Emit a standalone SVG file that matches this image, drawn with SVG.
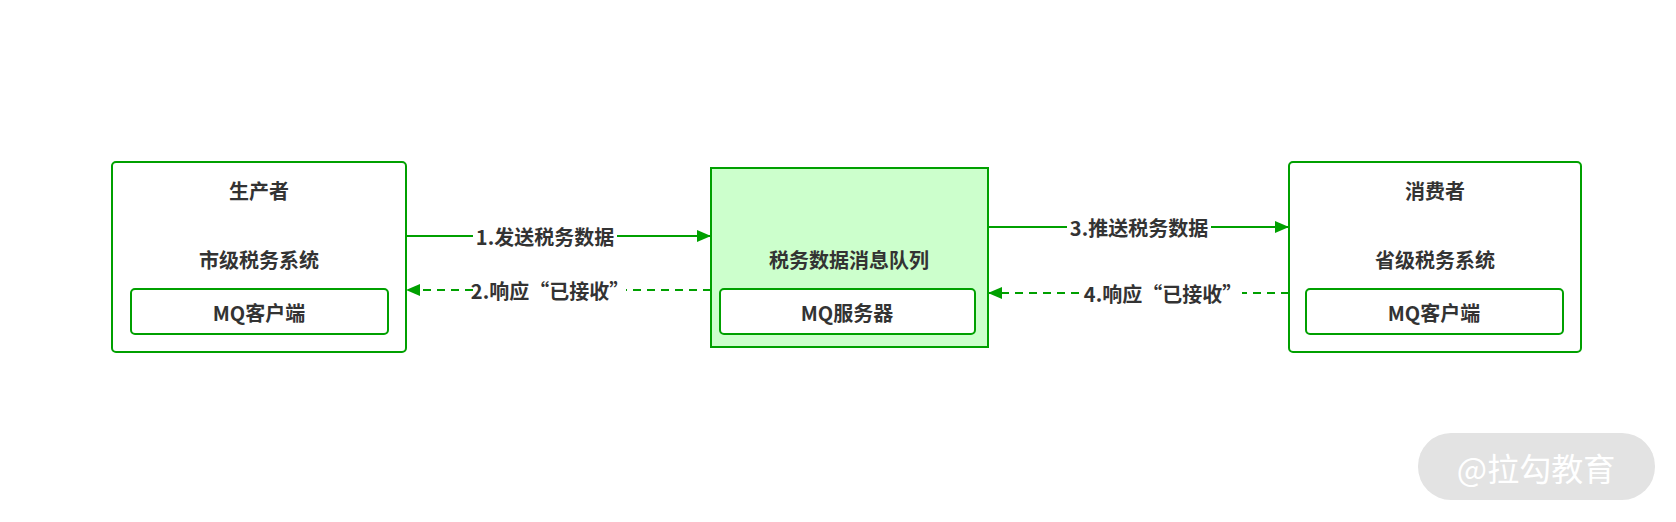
<svg xmlns="http://www.w3.org/2000/svg" width="1676" height="522" viewBox="0 0 1676 522">
<style>
.box{fill:#fff;stroke:#00a000;stroke-width:2}
.t{font-family:"Noto Sans CJK SC",sans-serif;font-weight:bold;font-size:20px;fill:#333;text-anchor:middle;dominant-baseline:central}
.ln{stroke:#00a000;stroke-width:2;fill:none}
.d{stroke-dasharray:8 6}
.lb{fill:#fff}
</style>
<defs><marker id="ah2" markerWidth="14" markerHeight="12" refX="13" refY="6" orient="auto" markerUnits="userSpaceOnUse" viewBox="0 0 14 12"><path d="M0,0L14,6L0,12z" fill="#00a000"/></marker></defs>
<rect width="1676" height="522" fill="#fff"/>
<g id="producer"><rect class="box" x="112" y="162" width="294" height="190" rx="4"/><text class="t" x="259" y="190">生产者</text><text class="t" x="259" y="259">市级税务系统</text><rect class="box" x="131" y="289" width="257" height="45" rx="4"/><text class="t" x="259" y="312">MQ客户端</text></g>
<g id="queue"><rect x="711" y="168" width="277" height="179" fill="#ccffcc" stroke="#00a000" stroke-width="2"/><text class="t" x="849" y="259">税务数据消息队列</text><rect class="box" x="720" y="289" width="255" height="45" rx="4"/><text class="t" x="847" y="312">MQ服务器</text></g>
<g id="consumer"><rect class="box" x="1289" y="162" width="292" height="190" rx="4"/><text class="t" x="1435" y="190">消费者</text><text class="t" x="1435" y="259">省级税务系统</text><rect class="box" x="1306" y="289" width="257" height="45" rx="4"/><text class="t" x="1434" y="312">MQ客户端</text></g>
<g id="connectors">
<path class="ln" d="M406,236H710" marker-end="url(#ah2)"/>
<path class="ln d" d="M711,290H407" marker-end="url(#ah2)"/>
<path class="ln" d="M988,227H1288" marker-end="url(#ah2)"/>
<path class="ln d" d="M1289,293H989" marker-end="url(#ah2)"/>
<rect class="lb" x="473" y="224" width="144" height="24"/><text class="t" x="545" y="236">1.发送税务数据</text>
<rect class="lb" x="474" y="278" width="152" height="24"/><text class="t" x="550" y="290">2.响应“已接收”</text>
<rect class="lb" x="1067" y="215" width="144" height="24"/><text class="t" x="1139" y="227">3.推送税务数据</text>
<rect class="lb" x="1084" y="281" width="158" height="24"/><text class="t" x="1163" y="293">4.响应“已接收”</text>
</g>
<g id="watermark"><rect x="1418" y="433" width="237" height="67" rx="33" fill="#e3e3e3"/><text x="1536" y="467" font-family="Noto Sans CJK SC,sans-serif" font-size="32" fill="#fff" text-anchor="middle" dominant-baseline="central">@拉勾教育</text></g>
</svg>
